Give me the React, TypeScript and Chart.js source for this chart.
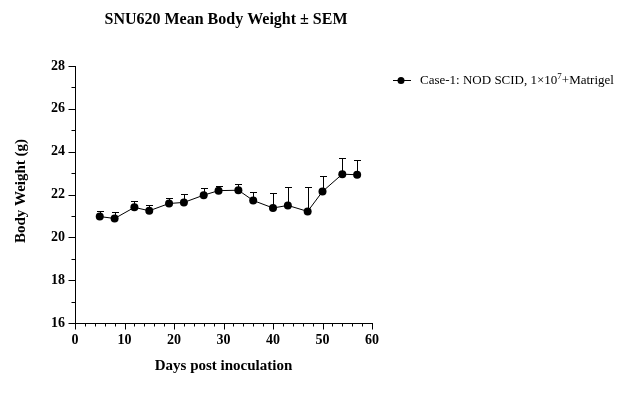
import React, { useEffect, useRef } from "react";
import { Chart, registerables } from "chart.js";

Chart.register(...registerables);

const days = [5, 8, 12, 15, 19, 22, 26, 29, 33, 36, 40, 43, 47, 50, 54, 57];
const meanWeight = [20.97, 20.88, 21.4, 21.24, 21.58, 21.63, 21.97, 22.18, 22.2, 21.72, 21.37, 21.49, 21.21, 22.14, 22.95, 22.92];
const semWeight = [0.25, 0.28, 0.31, 0.27, 0.24, 0.38, 0.32, 0.23, 0.28, 0.38, 0.72, 0.88, 1.16, 0.74, 0.77, 0.68];
const xTickMajor = [0, 10, 20, 30, 40, 50, 60];
const yTickMajor = [16, 18, 20, 22, 24, 26, 28];
const chartTitle = "SNU620 Mean Body Weight ± SEM";
const xTitle = "Days post inoculation";
const yTitle = "Body Weight (g)";
const legendMain = "Case-1: NOD SCID, 1×10";
const legendSup = "7";
const legendTail = "+Matrigel";

const SERIF = "'Liberation Serif', 'Times New Roman', serif";

const decorPlugin = {
  id: "decor",
  beforeDatasetsDraw(chart: any) {
    const { ctx, scales } = chart;
    const xs = scales.x;
    const ys = scales.y;
    ctx.save();
    ctx.strokeStyle = "#000";
    ctx.lineWidth = 1;
    for (let i = 0; i < days.length; i++) {
      const px = Math.round(xs.getPixelForValue(days[i])) + 0.5;
      const y0 = ys.getPixelForValue(meanWeight[i]);
      const y1 = Math.round(ys.getPixelForValue(meanWeight[i] + semWeight[i])) + 0.5;
      ctx.beginPath();
      ctx.moveTo(px, y0);
      ctx.lineTo(px, y1);
      ctx.moveTo(px - 3.5, y1);
      ctx.lineTo(px + 3.5, y1);
      ctx.stroke();
    }
    ctx.restore();
  },
  afterDraw(chart: any) {
    const { ctx, scales, chartArea } = chart;
    const xs = scales.x;
    const ys = scales.y;
    ctx.save();
    ctx.strokeStyle = "#000";
    ctx.lineWidth = 1;
    const bottom = Math.round(chartArea.bottom) + 0.5;
    for (let v = xTickMajor[0]; v <= xTickMajor[xTickMajor.length - 1]; v += 2) {
      const px = Math.round(xs.getPixelForValue(v)) + 0.5;
      const len = xTickMajor.includes(v) ? 6 : 3;
      ctx.beginPath();
      ctx.moveTo(px, bottom);
      ctx.lineTo(px, bottom + len);
      ctx.stroke();
    }
    const left = Math.round(chartArea.left) + 0.5;
    for (let v = yTickMajor[0]; v <= yTickMajor[yTickMajor.length - 1]; v += 1) {
      const py = Math.round(ys.getPixelForValue(v)) + 0.5;
      const len = yTickMajor.includes(v) ? 7 : 4;
      ctx.beginPath();
      ctx.moveTo(left, py);
      ctx.lineTo(left - len, py);
      ctx.stroke();
    }
    ctx.fillStyle = "#000";
    ctx.textAlign = "center";
    ctx.textBaseline = "middle";
    ctx.font = `bold 16px ${SERIF}`;
    ctx.fillText(chartTitle, 226, 20);
    ctx.font = `bold 15px ${SERIF}`;
    ctx.fillText(xTitle, (chartArea.left + chartArea.right) / 2, 366);
    ctx.save();
    ctx.translate(21, 191);
    ctx.rotate(-Math.PI / 2);
    ctx.fillText(yTitle, 0, 0);
    ctx.restore();
    const ly = 80;
    ctx.beginPath();
    ctx.moveTo(393, ly + 0.5);
    ctx.lineTo(411, ly + 0.5);
    ctx.stroke();
    ctx.beginPath();
    ctx.arc(401, ly + 0.5, 3.5, 0, Math.PI * 2);
    ctx.fill();
    ctx.textAlign = "left";
    ctx.textBaseline = "alphabetic";
    ctx.font = `13px ${SERIF}`;
    let tx = 420;
    ctx.fillText(legendMain, tx, ly + 4);
    tx += ctx.measureText(legendMain).width;
    ctx.font = `9px ${SERIF}`;
    ctx.fillText(legendSup, tx, ly - 1);
    tx += ctx.measureText(legendSup).width;
    ctx.font = `13px ${SERIF}`;
    ctx.fillText(legendTail, tx, ly + 4);
    ctx.restore();
  },
};

export default function App() {
  const ref = useRef<HTMLCanvasElement>(null);
  useEffect(() => {
    if (!ref.current) return;
    const chart = new Chart(ref.current, {
      type: "line",
      data: {
        datasets: [
          {
            data: days.map((d, i) => ({ x: d, y: meanWeight[i] })),
            borderColor: "#000",
            backgroundColor: "#000",
            borderWidth: 1,
            pointRadius: 4,
            pointBackgroundColor: "#000",
            pointBorderColor: "#000",
            pointBorderWidth: 0,
            tension: 0,
          },
        ],
      },
      options: {
        animation: false,
        responsive: false,
        layout: { padding: { left: 0, top: 66, right: 258, bottom: 0 } },
        plugins: { legend: { display: false }, tooltip: { enabled: false }, title: { display: false } },
        scales: {
          x: {
            type: "linear",
            min: 0,
            max: 60,
            afterFit: (s: any) => { s.height = 82; },
            grid: { display: false, drawTicks: false },
            border: { display: true, color: "#000", width: 1 },
            ticks: {
              stepSize: 10,
              padding: 9,
              color: "#000",
              font: { family: SERIF, size: 14, weight: "bold" },
            },
          },
          y: {
            type: "linear",
            min: 16,
            max: 28,
            afterFit: (s: any) => { s.width = 75; },
            grid: { display: false, drawTicks: false },
            border: { display: true, color: "#000", width: 1 },
            ticks: {
              stepSize: 2,
              padding: 10,
              color: "#000",
              font: { family: SERIF, size: 14, weight: "bold" },
            },
          },
        },
      },
      plugins: [decorPlugin],
    });
    return () => chart.destroy();
  }, []);
  return (
    <div style={{ position: "fixed", left: 0, top: 0, width: 630, height: 405, background: "#fff" }}>
      <canvas ref={ref} width={630} height={405} style={{ display: "block" }} />
    </div>
  );
}
